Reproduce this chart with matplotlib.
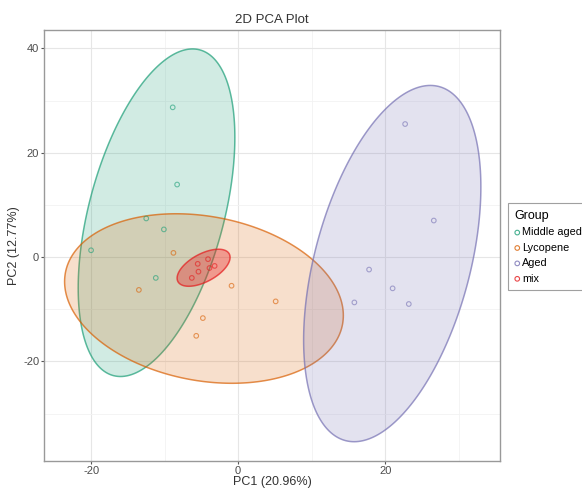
import matplotlib as mpl

mpl.use('Agg')

import matplotlib.pyplot as plt
import numpy as np
from matplotlib.colors import to_rgba
from matplotlib.patches import Polygon

plt.rcParams['font.family'] = ['Liberation Sans', 'DejaVu Sans']
plt.rcParams['axes.unicode_minus'] = False

groups = ["Middle aged", "Lycopene", "Aged", "mix"]
colors = ["#1B9E77", "#D95F02", "#7570B3", "#E41A1C"]

# PCA scores
mid_x = [-8.9, -8.3, -12.5, -10.1, -20.0, -11.2]
mid_y = [28.7, 13.9, 7.4, 5.3, 1.3, -4.0]
lyc_x = [-8.8, -13.5, -0.9, 5.1, -4.8, -5.7]
lyc_y = [0.8, -6.3, -5.5, -8.5, -11.7, -15.1]
aged_x = [22.7, 26.6, 17.8, 21.0, 15.8, 23.2]
aged_y = [25.5, 7.0, -2.4, -6.0, -8.7, -9.0]
mix_x = [-5.5, -4.1, -3.2, -3.9, -5.4, -6.3]
mix_y = [-1.3, -0.4, -1.7, -2.1, -2.8, -4.0]

# ellipses: centre, half x extent, half y extent, correlation
ell_cx = [-11.1, -4.65, 20.95, -4.7]
ell_cy = [8.5, -7.95, -1.25, -2.05]
ell_rx = [10.65, 18.95, 12.05, 3.6]
ell_ry = [31.4, 16.25, 34.15, 3.55]
ell_rho = [0.46, -0.2, 0.43, 0.56]

xs = [mid_x, lyc_x, aged_x, mix_x]
ys = [mid_y, lyc_y, aged_y, mix_y]


def ellipse_path(cx, cy, rx, ry, rho, n=240):
    cov = np.array([[rx * rx, rho * rx * ry], [rho * rx * ry, ry * ry]])
    L = np.linalg.cholesky(cov)
    t = np.linspace(0, 2 * np.pi, n, endpoint=False)
    pts = L @ np.vstack([np.cos(t), np.sin(t)])
    return np.column_stack([pts[0] + cx, pts[1] + cy])


fig = plt.figure(figsize=(5.82, 4.88), dpi=100)
ax = fig.add_axes([0.0756, 0.0553, 0.7835, 0.884])

for i, g in enumerate(groups):
    pts = ellipse_path(ell_cx[i], ell_cy[i], ell_rx[i], ell_ry[i],
                       ell_rho[i])
    fa = 0.35 if g == "mix" else 0.2
    ax.add_patch(Polygon(pts, closed=True, facecolor=to_rgba(colors[i], fa),
                         edgecolor=to_rgba(colors[i], 0.7), lw=1.1,
                         zorder=2))

for i, g in enumerate(groups):
    ax.scatter(xs[i], ys[i], s=11, facecolors='none', edgecolors=colors[i],
               linewidths=0.8, alpha=0.6, zorder=4, label=g)

ax.set_xlim(-26.4, 35.6)
ax.set_ylim(-39.1, 43.6)
ax.set_xticks([-20, 0, 20])
ax.set_yticks([-20, 0, 20, 40])
ax.set_xticks([-10, 10, 30], minor=True)
ax.set_yticks([-30, -10, 10, 30], minor=True)
ax.grid(True, which='major', color='#e6e6e6', lw=0.8)
ax.grid(True, which='minor', color='#f2f2f2', lw=0.6)
ax.set_axisbelow(True)
for sp in ax.spines.values():
    sp.set_color('#999999')
    sp.set_linewidth(1.0)
ax.tick_params(which='major', length=2, width=0.8, color='#555555',
               labelsize=8, labelcolor='#4d4d4d', pad=1.5)
ax.tick_params(which='minor', length=0)

ax.set_xlabel("PC1 (20.96%)", fontsize=9, labelpad=0, color='#333333')
ax.set_ylabel("PC2 (12.77%)", fontsize=9, labelpad=2, color='#333333')
ax.set_title("2D PCA Plot", fontsize=9.5, pad=5, color='#333333')

leg = fig.legend(loc='upper left', bbox_to_anchor=(0.872, 0.583),
                 title="Group", fontsize=7.8, title_fontsize=9,
                 frameon=True, fancybox=False, edgecolor='#888888',
                 handletextpad=0.15, handlelength=0.6, borderpad=0.6,
                 borderaxespad=0, labelspacing=0.5)
leg._legend_box.align = 'left'
leg.get_frame().set_linewidth(0.8)
for h in leg.legend_handles:
    h.set_alpha(0.8)

fig.savefig("out.png", dpi=100)
